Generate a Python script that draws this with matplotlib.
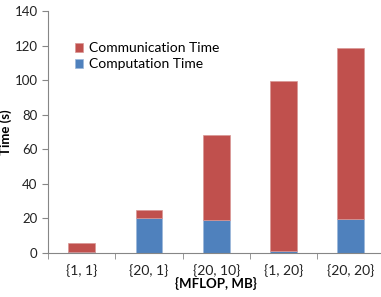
import matplotlib.pyplot as plt
import numpy as np

plt.rcParams['font.family'] = ['Lato', 'DejaVu Sans']

categories = ['{1, 1}', '{20, 1}', '{20, 10}', '{1, 20}', '{20, 20}']
computation = [0.8, 20.2, 19.3, 1.0, 19.7]
communication = [4.9, 4.7, 49.0, 98.5, 98.8]

RED = '#C0504D'
BLUE = '#4F81BD'
AXIS = '#868686'

fig = plt.figure(figsize=(3.81, 2.97), dpi=100)
ax = fig.add_axes([0.126, 0.148, 0.8835, 0.815])

x = np.arange(len(categories))
ax.bar(x, computation, width=0.4, color=BLUE, edgecolor='#9bb7d9', linewidth=0.5,
       label='Computation Time')
ax.bar(x, communication, width=0.4, bottom=computation, color=RED, edgecolor='#d99694',
       linewidth=0.5, label='Communication Time')

ax.set_xlim(-0.5, len(categories) - 0.5)
ax.set_ylim(0, 140)
ax.set_yticks(range(0, 141, 20))
ax.set_xticks(x)
ax.set_xticklabels(categories)
ax.set_xticks(np.arange(-0.5, len(categories), 1.0), minor=True)
ax.tick_params(axis='x', which='major', length=0, labelsize=10, pad=8, colors='#222222')
ax.tick_params(axis='x', which='minor', length=4, color=AXIS)
ax.tick_params(axis='y', length=4, color=AXIS, labelsize=9.5, colors='#222222')

for side in ['top', 'right']:
    ax.spines[side].set_visible(False)
for side in ['left', 'bottom']:
    ax.spines[side].set_color(AXIS)
    ax.spines[side].set_linewidth(0.8)

ax.set_ylabel('Time (s)', fontweight='bold', fontsize=9.5, labelpad=2)
ax.set_xlabel('{MFLOP, MB}', fontweight='bold', fontsize=9.5, labelpad=0)

handles, labels = ax.get_legend_handles_labels()
ax.legend(handles[::-1], labels[::-1], loc='upper left', bbox_to_anchor=(0.06, 0.9),
          frameon=False, fontsize=10, handlelength=0.6, handleheight=0.6,
          handletextpad=0.4, labelspacing=0.3, borderpad=0)

fig.savefig('out.png', dpi=100)
